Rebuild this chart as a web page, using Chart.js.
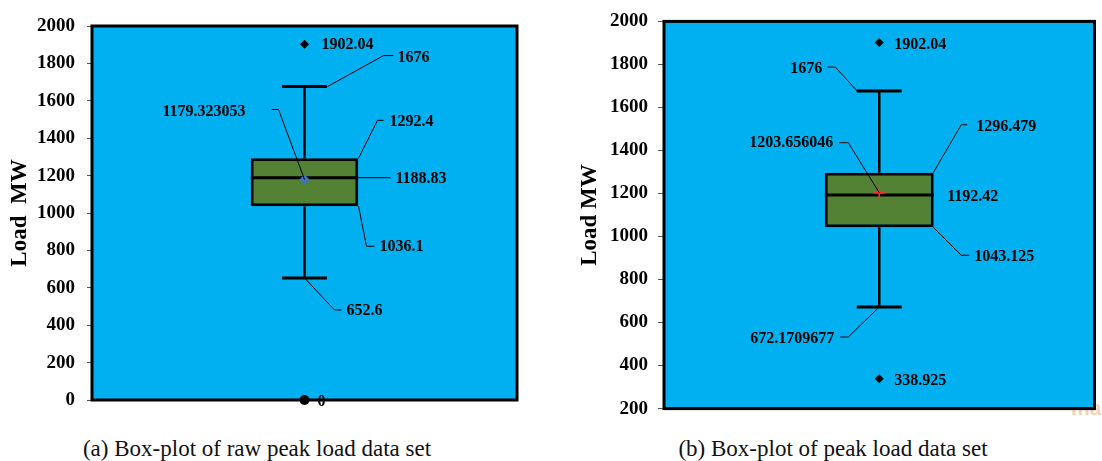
<!DOCTYPE html>
<html>
<head>
<meta charset="utf-8">
<script src="https://cdn.jsdelivr.net/npm/chart.js@4"></script>
<style>
  body { margin: 0; background: #fff; width: 1102px; height: 461px; position: relative; overflow: hidden; font-family: "Liberation Serif", serif; }
  canvas { position: absolute; top: 0; z-index: 1; }
  #rawChart { left: 0; }
  #peakChart { left: 560px; }
  .caption { position: absolute; top: 436px; font-size: 23px; line-height: 26px; transform: translateX(-50%); white-space: nowrap; color: #111; }
  .mark { position: absolute; left: 1071px; top: 396px; font: bold 21px "Liberation Sans", sans-serif; color: #fbd2b6; z-index: 0; }
</style>
</head>
<body>
<span class="mark">ma</span>
<canvas id="rawChart" width="540" height="430"></canvas>
<canvas id="peakChart" width="542" height="430"></canvas>
<div class="caption" style="left:257px">(a) Box-plot of raw peak load data set</div>
<div class="caption" style="left:833px">(b) Box-plot of peak load data set</div>
<script>
// box statistics: min whisker, q1, median, q3, max whisker
const categories = ['Peak load'];
const rawBox = [652.6, 1036.1, 1188.83, 1292.4, 1676];
const rawMean = [1179.323053];
const rawOutliers = [1902.04];
const rawZeros = [0];
const peakBox = [672.1709677, 1043.125, 1192.42, 1296.479, 1676];
const peakMean = [1203.656046];
const peakOutliers = [1902.04, 338.925];
// y axis: min, max, step
const rawTicks = [0, 2000, 200];
const peakTicks = [200, 2000, 200];

const BLUE = '#00B0F0';
const GREEN = '#548235';
const serif = '"Liberation Serif", "Times New Roman", serif';

function line(ctx, pts) {
  ctx.beginPath();
  ctx.moveTo(pts[0][0], pts[0][1]);
  for (let i = 1; i < pts.length; i++) ctx.lineTo(pts[i][0], pts[i][1]);
  ctx.stroke();
}

const boxPlugin = {
  id: 'boxNotes',
  beforeDraw(chart) {
    const { ctx, chartArea: a } = chart;
    ctx.save();
    ctx.fillStyle = BLUE;
    ctx.fillRect(a.left, a.top, a.width, a.height);
    ctx.restore();
  },
  afterDatasetDraw(chart, args, opts) {
    if (args.meta.type !== 'bar') return;
    const ctx = chart.ctx, y = chart.scales.y;
    const bar = args.meta.data[0];
    const cx = bar.x, half = bar.width / 2, cap = opts.cap / 2;
    const [mn, q1, md, q3, mx] = opts.box.map(v => y.getPixelForValue(v));
    ctx.save();
    ctx.strokeStyle = '#000';
    ctx.lineWidth = 2.5;
    line(ctx, [[cx, q3], [cx, mx]]);
    line(ctx, [[cx, q1], [cx, mn]]);
    ctx.lineWidth = 3;
    line(ctx, [[cx - cap, mx], [cx + cap, mx]]);
    line(ctx, [[cx - cap, mn], [cx + cap, mn]]);
    line(ctx, [[cx - half, md], [cx + half, md]]);
    ctx.restore();
  },
  afterDatasetsDraw(chart, args, opts) {
    const ctx = chart.ctx, y = chart.scales.y;
    const cx = chart.scales.x.getPixelForValue(0);
    ctx.save();
    ctx.strokeStyle = '#000';
    ctx.lineWidth = 1;
    ctx.fillStyle = '#000';
    ctx.font = 'bold 16px ' + serif;
    ctx.textBaseline = 'middle';
    opts.notes.forEach(n => {
      const py = y.getPixelForValue(n.v);
      if (n.path) line(ctx, n.path.map(p => [cx + p[0], py + p[1]]));
      ctx.textAlign = n.align || 'left';
      ctx.fillText(String(n.v), cx + n.dx, py + n.dy + 1);
    });
    ctx.restore();
  },
  afterDraw(chart) {
    const { ctx, chartArea: a } = chart;
    ctx.save();
    ctx.strokeStyle = '#000';
    ctx.lineWidth = 3;
    ctx.strokeRect(a.left, a.top, a.width, a.height);
    ctx.restore();
  }
};

function pts(values) {
  return values.map(v => ({ x: categories[0], y: v }));
}

function makeChart(id, o) {
  return new Chart(document.getElementById(id), {
    type: 'bar',
    data: {
      labels: categories,
      datasets: [
        {
          type: 'bar',
          data: [[o.box[1], o.box[3]]],
          backgroundColor: GREEN,
          borderColor: '#000',
          borderWidth: 3,
          borderSkipped: false,
          barPercentage: 0.253,
          categoryPercentage: 1,
          order: 5
        },
        {
          type: 'line',
          data: pts(o.outliers),
          showLine: false,
          pointStyle: 'rectRot',
          pointRadius: 4.5,
          pointBackgroundColor: '#000',
          pointBorderWidth: 0,
          order: 1
        },
        {
          type: 'line',
          data: pts(o.mean),
          showLine: false,
          pointStyle: o.meanStyle,
          pointRadius: o.meanRadius,
          pointBackgroundColor: o.meanColor,
          pointBorderColor: o.meanColor,
          pointBorderWidth: o.meanBorder,
          order: 1
        },
        {
          type: 'line',
          data: pts(o.zeros || []),
          showLine: false,
          pointStyle: 'circle',
          pointRadius: 5,
          pointBackgroundColor: '#000',
          pointBorderWidth: 0,
          clip: false,
          order: 0
        }
      ]
    },
    options: {
      responsive: false,
      animation: false,
      events: [],
      layout: { padding: o.padding },
      plugins: {
        legend: { display: false },
        tooltip: { enabled: false },
        boxNotes: { box: o.box, cap: 45, notes: o.notes }
      },
      scales: {
        x: { display: false },
        y: {
          min: o.ticks[0],
          max: o.ticks[1],
          afterFit: s => { s.width = o.axisWidth; },
          ticks: {
            stepSize: o.ticks[2],
            color: '#000',
            padding: o.tickPad,
            callback: v => String(v),
            font: { family: serif, size: 19, weight: 700 }
          },
          grid: { drawOnChartArea: false, drawTicks: true, tickLength: o.tickLen, color: '#555' },
          border: { display: false },
          title: {
            display: true,
            text: o.title,
            color: '#000',
            padding: { top: 6, bottom: 0 },
            font: { family: serif, size: 23, weight: 700 }
          }
        }
      }
    },
    plugins: [boxPlugin]
  });
}

makeChart('rawChart', {
  box: rawBox, mean: rawMean, outliers: rawOutliers, zeros: rawZeros, ticks: rawTicks,
  title: 'Load  MW',
  meanStyle: 'rectRot', meanRadius: 5, meanColor: '#4472C4', meanBorder: 0,
  padding: { left: 0, right: 23, top: 26, bottom: 30 },
  axisWidth: 92, tickPad: 12, tickLen: 5,
  notes: [
    { v: rawOutliers[0], dx: 17, dy: 0 },
    { v: rawBox[4], path: [[23, 0], [79, -31], [89, -31]], dx: 93, dy: -30 },
    { v: rawBox[3], path: [[54, 0], [73, -38], [79, -38]], dx: 85, dy: -37 },
    { v: rawBox[2], path: [[54, 0], [86, 0]], dx: 91, dy: 0 },
    { v: rawMean[0], path: [[0, 0], [-26, -70], [-33, -70]], dx: -59, dy: -69, align: 'right' },
    { v: rawBox[1], path: [[54, 0], [62, 40], [70, 40]], dx: 75, dy: 40 },
    { v: rawBox[0], path: [[0, 0], [30, 32], [37, 32]], dx: 42, dy: 32 },
    { v: rawZeros[0], dx: 13, dy: 1 }
  ]
});

makeChart('peakChart', {
  box: peakBox, mean: peakMean, outliers: peakOutliers, ticks: peakTicks,
  title: 'Load MW',
  meanStyle: 'cross', meanRadius: 6, meanColor: '#FF3030', meanBorder: 1.5,
  padding: { left: 10, right: 5, top: 15, bottom: 21 },
  axisWidth: 94, tickPad: 10, tickLen: 6,
  notes: [
    { v: peakOutliers[0], dx: 15, dy: 1 },
    { v: peakOutliers[1], dx: 15, dy: 1 },
    { v: peakBox[4], path: [[-22, 0], [-44, -24], [-52, -24]], dx: -57, dy: -23, align: 'right' },
    { v: peakBox[3], path: [[54, 0], [82, -48], [88, -48]], dx: 97, dy: -47 },
    { v: peakBox[2], dx: 68, dy: 1 },
    { v: peakMean[0], path: [[0, 0], [-31, -50], [-40, -50]], dx: -46, dy: -51, align: 'right' },
    { v: peakBox[1], path: [[54, 0], [82, 28], [90, 28]], dx: 95, dy: 29 },
    { v: peakBox[0], path: [[0, 0], [-31, 30], [-39, 30]], dx: -45, dy: 31, align: 'right' }
  ]
});
</script>
</body>
</html>
